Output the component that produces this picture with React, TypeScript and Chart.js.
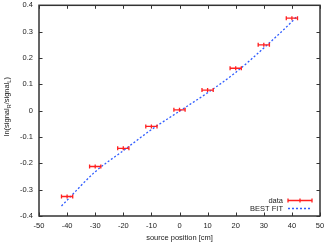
import React, { useEffect, useRef } from "react";
import { Chart, registerables } from "chart.js";

Chart.register(...registerables);

const xPositions = [-40, -30, -20, -10, 0, 10, 20, 30, 40];
const ratioValues = [-0.326, -0.212, -0.143, -0.06, 0.003, 0.078, 0.161, 0.25, 0.351];
const xErrors = [2, 2, 2, 2, 2, 2, 2, 2, 2];
const fitX = [-42, -40, -30, -20, -10, 0, 10, 20, 30, 40, 41.6];
const fitY = [-0.362, -0.34, -0.232, -0.152, -0.072, -0.002, 0.068, 0.145, 0.238, 0.338, 0.356];
const xTickValues = [-50, -40, -30, -20, -10, 0, 10, 20, 30, 40, 50];
const yTickValues = [-0.4, -0.3, -0.2, -0.1, 0, 0.1, 0.2, 0.3, 0.4];
const legendLabels = ["data", "BEST FIT"];

const FONT = "Liberation Sans, Arial, sans-serif";
const RED = "#ff2020";
const BLUE = "#2f5cff";
const FRAME = "#333333";

const framePlugin = {
  id: "frameTicks",
  afterDatasetsDraw(chart: any) {
    const { ctx, chartArea: a, scales } = chart;
    const xs = scales.x;
    const ys = scales.y;
    ctx.save();
    ctx.strokeStyle = RED;
    ctx.lineWidth = 1.3;
    xPositions.forEach((xv, i) => {
      const py = ys.getPixelForValue(ratioValues[i]);
      const x1 = xs.getPixelForValue(xv - xErrors[i]);
      const x2 = xs.getPixelForValue(xv + xErrors[i]);
      ctx.beginPath();
      ctx.moveTo(x1, py);
      ctx.lineTo(x2, py);
      ctx.moveTo(x1, py - 2);
      ctx.lineTo(x1, py + 2);
      ctx.moveTo(x2, py - 2);
      ctx.lineTo(x2, py + 2);
      ctx.stroke();
    });
    ctx.strokeStyle = FRAME;
    ctx.lineWidth = 1.5;
    ctx.strokeRect(a.left, a.top, a.right - a.left, a.bottom - a.top);
    ctx.lineWidth = 1;
    ctx.beginPath();
    xTickValues.forEach((v) => {
      const px = Math.round(xs.getPixelForValue(v)) + 0.5;
      ctx.moveTo(px, a.bottom);
      ctx.lineTo(px, a.bottom - 3.5);
      ctx.moveTo(px, a.top);
      ctx.lineTo(px, a.top + 3.5);
    });
    yTickValues.forEach((v) => {
      const py = Math.round(ys.getPixelForValue(v)) + 0.5;
      ctx.moveTo(a.left, py);
      ctx.lineTo(a.left + 3.5, py);
      ctx.moveTo(a.right, py);
      ctx.lineTo(a.right - 3.5, py);
    });
    ctx.stroke();

    const lx1 = a.right - 32;
    const lx2 = a.right - 8;
    const ly1 = a.bottom - 15.5;
    const ly2 = a.bottom - 7.5;
    ctx.font = `7.5px ${FONT}`;
    ctx.fillStyle = "#222";
    ctx.textAlign = "right";
    ctx.textBaseline = "middle";
    ctx.fillText(legendLabels[0], lx1 - 5, ly1);
    ctx.fillText(legendLabels[1], lx1 - 5, ly2);
    ctx.strokeStyle = RED;
    ctx.lineWidth = 1.3;
    ctx.beginPath();
    ctx.moveTo(lx1, ly1);
    ctx.lineTo(lx2, ly1);
    ctx.moveTo(lx1, ly1 - 2);
    ctx.lineTo(lx1, ly1 + 2);
    ctx.moveTo(lx2, ly1 - 2);
    ctx.lineTo(lx2, ly1 + 2);
    const cx = (lx1 + lx2) / 2;
    ctx.moveTo(cx, ly1 - 2);
    ctx.lineTo(cx, ly1 + 2);
    ctx.stroke();
    ctx.strokeStyle = BLUE;
    ctx.setLineDash([2, 2]);
    ctx.beginPath();
    ctx.moveTo(lx1, ly2);
    ctx.lineTo(lx2, ly2);
    ctx.stroke();
    ctx.setLineDash([]);

    ctx.translate(7, (a.top + a.bottom) / 2 - 4);
    ctx.rotate(-Math.PI / 2);
    const parts: [string, boolean][] = [
      ["ln(signal", false],
      ["R", true],
      ["/signal", false],
      ["L", true],
      [")", false],
    ];
    const big = `7.5px ${FONT}`;
    const small = `5.5px ${FONT}`;
    let total = 0;
    parts.forEach(([t, sub]) => {
      ctx.font = sub ? small : big;
      total += ctx.measureText(t).width;
    });
    let x = -total / 2;
    ctx.textAlign = "left";
    ctx.fillStyle = "#222";
    parts.forEach(([t, sub]) => {
      ctx.font = sub ? small : big;
      ctx.fillText(t, x, sub ? 2 : 0);
      x += ctx.measureText(t).width;
    });
    ctx.restore();
  },
};

export default function App() {
  const ref = useRef<HTMLCanvasElement>(null);
  useEffect(() => {
    if (!ref.current) return;
    const chart = new Chart(ref.current, {
      type: "scatter",
      data: {
        datasets: [
          {
            label: "data",
            data: xPositions.map((x, i) => ({ x, y: ratioValues[i] })),
            showLine: false,
            pointStyle: "line",
            rotation: 90,
            pointRadius: 2,
            borderColor: RED,
            backgroundColor: RED,
            borderWidth: 1.3,
          },
          {
            label: "BEST FIT",
            data: fitX.map((x, i) => ({ x, y: fitY[i] })),
            showLine: true,
            pointRadius: 0,
            borderColor: BLUE,
            borderWidth: 1.3,
            borderDash: [2, 2],
            cubicInterpolationMode: "monotone",
          },
        ],
      },
      options: {
        animation: false,
        responsive: false,
        maintainAspectRatio: false,
        layout: { padding: { top: 4, right: 7, left: 0, bottom: 0 } },
        plugins: { legend: { display: false }, tooltip: { enabled: false } },
        scales: {
          x: {
            type: "linear",
            min: -50,
            max: 50,
            afterBuildTicks: (s: any) => {
              s.ticks = xTickValues.map((v) => ({ value: v }));
            },
            grid: { display: false, drawTicks: false },
            border: { display: false },
            ticks: {
              padding: 5,
              color: "#222",
              font: { family: FONT, size: 7.5 },
              maxRotation: 0,
              callback: (v: any) => String(v),
            },
            title: {
              display: true,
              text: "source position [cm]",
              color: "#222",
              font: { family: FONT, size: 7.5 },
              padding: { top: 2, bottom: 0 },
            },
            afterFit: (s: any) => {
              s.height = 26;
              s.paddingLeft = 0;
              s.paddingRight = 0;
            },
          },
          y: {
            type: "linear",
            min: -0.4,
            max: 0.4,
            afterBuildTicks: (s: any) => {
              s.ticks = yTickValues.map((v) => ({ value: v }));
            },
            grid: { display: false, drawTicks: false },
            border: { display: false },
            ticks: {
              padding: 6,
              color: "#222",
              font: { family: FONT, size: 7.5 },
              callback: (v: any) => String(Math.round(v * 10) / 10),
            },
            afterFit: (s: any) => {
              s.width = 39;
              s.paddingTop = 0;
              s.paddingBottom = 0;
            },
          },
        },
      },
      plugins: [framePlugin],
    } as any);
    return () => chart.destroy();
  }, []);
  return (
    <div style={{ position: "fixed", left: 0, top: 0, width: 327, height: 242, background: "#fff" }}>
      <canvas ref={ref} width={327} height={242} style={{ width: 327, height: 242 }} />
    </div>
  );
}
